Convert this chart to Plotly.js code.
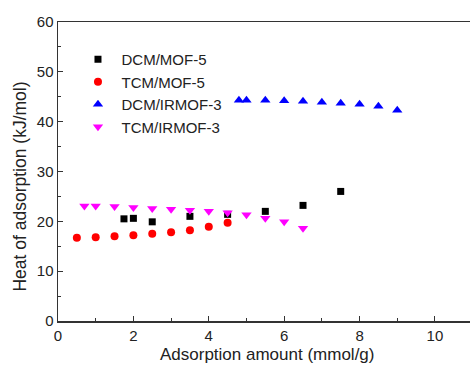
<!DOCTYPE html>
<html>
<head>
<meta charset="utf-8">
<script src="https://cdn.plot.ly/plotly-3.0.1.min.js"></script>
<style>html,body{margin:0;padding:0;background:#fff;}#chart{width:470px;height:367px;}</style>
</head>
<body>
<div id="chart"></div>
<script>
const seriesNames = ["DCM/MOF-5", "TCM/MOF-5", "DCM/IRMOF-3", "TCM/IRMOF-3"];

const dcmMof5X = [1.75, 2.0, 2.5, 3.5, 4.5, 5.5, 6.5, 7.5];
const dcmMof5Y = [20.5, 20.6, 19.9, 21.0, 21.4, 22.0, 23.2, 26.0];

const tcmMof5X = [0.5, 1.0, 1.5, 2.0, 2.5, 3.0, 3.5, 4.0, 4.5];
const tcmMof5Y = [16.7, 16.8, 17.0, 17.2, 17.5, 17.8, 18.2, 18.9, 19.7];

const dcmIrmof3X = [4.8, 5.0, 5.5, 6.0, 6.5, 7.0, 7.5, 8.0, 8.5, 9.0];
const dcmIrmof3Y = [44.3, 44.3, 44.3, 44.2, 44.1, 43.9, 43.7, 43.5, 43.1, 42.3];

const tcmIrmof3X = [0.7, 1.0, 1.5, 2.0, 2.5, 3.0, 3.5, 4.0, 4.5, 5.0, 5.5, 6.0, 6.5];
const tcmIrmof3Y = [23.1, 23.1, 23.0, 22.8, 22.6, 22.4, 22.2, 22.0, 21.7, 21.3, 20.6, 19.9, 18.6];

const xTickVals = [0, 2, 4, 6, 8, 10];
const xTickText = ["0", "2", "4", "6", "8", "10"];
const yTickVals = [0, 10, 20, 30, 40, 50, 60];
const yTickText = ["0", "10", "20", "30", "40", "50", "60"];

const xTitle = "Adsorption amount (mmol/g)";
const yTitle = "Heat of adsorption (kJ/mol)";

const traces = [
  {x: dcmMof5X, y: dcmMof5Y, name: seriesNames[0], mode: "markers", type: "scatter",
   marker: {symbol: "square", size: 7, color: "#000000"}},
  {x: tcmMof5X, y: tcmMof5Y, name: seriesNames[1], mode: "markers", type: "scatter",
   marker: {symbol: "circle", size: 8, color: "#ff0000"}},
  {x: dcmIrmof3X, y: dcmIrmof3Y, name: seriesNames[2], mode: "markers", type: "scatter",
   marker: {symbol: "triangle-up", size: 9, color: "#0000ff"}},
  {x: tcmIrmof3X, y: tcmIrmof3Y, name: seriesNames[3], mode: "markers", type: "scatter",
   marker: {symbol: "triangle-down", size: 9, color: "#ff00ff"}}
];

const layout = {
  width: 470, height: 367,
  margin: {l: 58, r: 0, t: 22, b: 46},
  paper_bgcolor: "#ffffff", plot_bgcolor: "#ffffff",
  font: {family: "Liberation Sans, Arial, sans-serif", size: 15, color: "#222222"},
  showlegend: true,
  legend: {x: 0.04, y: 0.93, xanchor: "left", yanchor: "top", bgcolor: "rgba(0,0,0,0)",
           font: {size: 15, color: "#222222"}, itemsizing: "trace", itemwidth: 37, tracegroupgap: 0},
  xaxis: {
    range: [0, 10.93], showgrid: false, zeroline: false,
    showline: true, linecolor: "#333333", linewidth: 1.5, mirror: true,
    ticks: "inside", ticklen: 5, tickcolor: "#333333", tickwidth: 1,
    tickvals: xTickVals, ticktext: xTickText,
    minor: {ticks: "inside", ticklen: 3, tickcolor: "#333333", tickvals: [1, 3, 5, 7, 9]},
    tickfont: {size: 15}
  },
  yaxis: {
    range: [0, 60], showgrid: false, zeroline: false,
    showline: true, linecolor: "#333333", linewidth: 1.5,
    ticks: "inside", ticklen: 5, tickcolor: "#333333", tickwidth: 1,
    tickvals: yTickVals, ticktext: yTickText,
    minor: {ticks: "inside", ticklen: 3, tickcolor: "#333333", tickvals: [5, 15, 25, 35, 45, 55]},
    tickfont: {size: 15}
  },
  annotations: [
    {
      text: yTitle, textangle: -90, showarrow: false,
      xref: "paper", yref: "paper", x: -0.092, y: 0.45,
      xanchor: "center", yanchor: "middle",
      font: {size: 17.5, color: "#222222"}
    },
    {
      text: xTitle, showarrow: false,
      xref: "paper", yref: "paper", x: 0.507, y: -0.112,
      xanchor: "center", yanchor: "middle",
      font: {size: 17, color: "#222222"}
    }
  ]
};

Plotly.newPlot("chart", traces, layout, {staticPlot: true, displayModeBar: false});
</script>
</body>
</html>
